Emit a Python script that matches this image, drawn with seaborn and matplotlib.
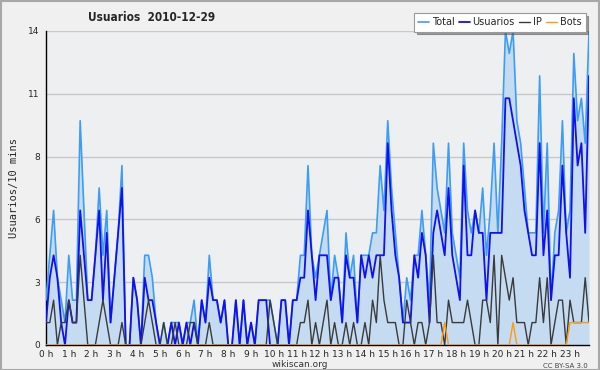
import matplotlib
matplotlib.use('Agg')
import matplotlib.pyplot as plt
import seaborn as sns
import pandas as pd
from matplotlib.patches import Rectangle
from matplotlib.ticker import FixedLocator, MultipleLocator

# editions per 10-minute slot, 2010-12-29 (144 slots)
total = [2, 4, 6, 3, 2, 1, 4, 2, 2, 10, 6, 2,
         2, 4, 7, 4, 6, 1, 3, 5, 8, 0, 0, 3,
         2, 0, 4, 4, 3, 1, 0, 1, 0, 1, 1, 1,
         0, 1, 1, 2, 0, 2, 1, 4, 2, 2, 1, 2,
         0, 0, 2, 0, 2, 0, 1, 0, 2, 2, 2, 2,
         1, 0, 2, 2, 0, 2, 2, 4, 4, 8, 4, 3,
         4, 5, 6, 2, 4, 3, 1, 5, 3, 4, 1, 4,
         4, 4, 5, 5, 8, 6, 10, 7, 5, 3, 1, 3,
         2, 4, 4, 6, 4, 2, 9, 7, 6, 5, 9, 5,
         4, 3, 9, 6, 5, 6, 5, 7, 4, 6, 9, 5,
         9, 14, 13, 14, 10, 9, 7, 5, 5, 5, 12, 5,
         9, 2, 5, 6, 10, 5, 6, 13, 10, 11, 9, 14]

usuarios = [1, 3, 4, 3, 1, 0, 2, 1, 1, 6, 4, 2,
            2, 4, 6, 2, 5, 1, 3, 5, 7, 0, 0, 3,
            2, 0, 3, 2, 2, 1, 0, 0, 0, 1, 0, 1,
            0, 1, 0, 1, 0, 2, 1, 3, 2, 2, 1, 2,
            0, 0, 2, 0, 2, 0, 1, 0, 2, 2, 2, 0,
            0, 0, 2, 2, 0, 2, 2, 3, 3, 6, 4, 2,
            4, 4, 4, 2, 3, 3, 1, 4, 3, 3, 1, 4,
            3, 4, 3, 4, 4, 4, 9, 6, 4, 3, 1, 1,
            1, 4, 3, 5, 4, 1, 5, 6, 5, 4, 7, 4,
            3, 2, 8, 4, 4, 6, 5, 5, 2, 5, 5, 5,
            5, 11, 11, 10, 9, 8, 6, 5, 4, 4, 9, 4,
            6, 2, 4, 4, 8, 5, 3, 11, 8, 9, 5, 12]

ip = [1, 1, 2, 0, 1, 1, 2, 1, 1, 4, 2, 0,
      0, 0, 1, 2, 1, 0, 0, 0, 1, 0, 0, 0,
      0, 0, 1, 2, 1, 0, 0, 1, 0, 0, 1, 0,
      0, 0, 1, 1, 0, 0, 0, 1, 0, 0, 0, 0,
      0, 0, 0, 0, 0, 0, 0, 0, 0, 0, 0, 2,
      1, 0, 0, 0, 0, 0, 0, 1, 1, 2, 0, 1,
      0, 1, 2, 0, 1, 0, 0, 1, 0, 1, 0, 0,
      1, 0, 2, 1, 4, 2, 1, 1, 1, 0, 0, 2,
      1, 0, 1, 1, 0, 1, 4, 1, 1, 0, 2, 1,
      1, 1, 1, 2, 1, 0, 0, 2, 2, 1, 4, 0,
      4, 3, 2, 3, 1, 1, 1, 0, 1, 1, 3, 1,
      3, 0, 1, 2, 2, 0, 2, 1, 1, 1, 3, 1]

bots = [0] * 105 + [1] + [0] * 17 + [1] + [0] * 14 + [1, 1, 1, 1, 1, 1]

hour_labels = [f'{h} h' for h in range(24)]
y_ticks = [0, 2.8, 5.6, 8.4, 11.2, 14]
y_tick_labels = ['0', '3', '6', '8', '11', '14']

series = ['Total', 'Usuarios', 'IP', 'Bots']
colors = {'Total': '#3d9df5', 'Usuarios': '#1010f0', 'IP': '#3a3a3a', 'Bots': '#ff9a10'}
widths = {'Total': 1.2, 'Usuarios': 1.3, 'IP': 1.0, 'Bots': 1.0}

df = pd.DataFrame({'slot': range(len(total)), 'Total': total,
                   'Usuarios': usuarios, 'IP': ip, 'Bots': bots})

sns.set_style('white')
plt.rcParams['font.family'] = ['DejaVu Sans']

fig = plt.figure(figsize=(6, 3.7), dpi=100, facecolor='#f0f0f0')
ax = fig.add_axes([46 / 600, 25 / 370, 543 / 600, 314 / 370])
ax.set_facecolor('#eeeff1')

ax.fill_between(df['slot'], df['Total'], color='#c4dbf1', zorder=1, linewidth=0)
for name in series:
    sns.lineplot(data=df, x='slot', y=name, ax=ax, color=colors[name],
                 linewidth=widths[name], label=name, zorder=3)

ax.set_xlim(0, len(total) - 1)
ax.set_ylim(0, 14)

ax.yaxis.set_major_locator(FixedLocator(y_ticks))
ax.set_yticklabels(y_tick_labels)
ax.yaxis.set_minor_locator(MultipleLocator(0.7))
ax.xaxis.set_major_locator(FixedLocator(range(0, 144, 6)))
ax.set_xticklabels(hour_labels)
ax.xaxis.set_minor_locator(MultipleLocator(1))

ax.tick_params(axis='both', which='major', direction='out', length=3.5, width=0.8,
               color='black', labelsize=6.5, pad=1)
ax.tick_params(axis='both', which='minor', direction='out', length=3, width=0.8,
               color='black')
ax.tick_params(axis='x', which='major', pad=0, labelsize=6.5)

ax.yaxis.grid(True, color='#c8c8c8', linewidth=1)
ax.xaxis.grid(False)
ax.set_axisbelow(True)
for side in ['top', 'right']:
    ax.spines[side].set_visible(False)
for side in ['left', 'bottom']:
    ax.spines[side].set_color('black')
    ax.spines[side].set_linewidth(1)

ax.set_xlabel('')
ax.set_ylabel('Usuarios/10 mins', family='DejaVu Sans Mono', fontsize=7.5, labelpad=7)

leg = ax.legend(loc='upper right', bbox_to_anchor=(0.976, 0.965),
                bbox_transform=fig.transFigure, ncol=4, fontsize=7,
                frameon=True, fancybox=False, shadow=True,
                handlelength=1.1, handletextpad=0.3, columnspacing=0.45,
                borderpad=0.45, borderaxespad=0)
leg.get_frame().set_edgecolor('#999999')
leg.get_frame().set_facecolor('white')
leg.get_frame().set_linewidth(0.8)

fig.text(0.252, 0.953, 'Usuarios  2010-12-29', fontsize=8.5, fontweight='bold',
         fontstretch='condensed', ha='center', va='center')
fig.text(0.5, 0.014, 'wikiscan.org', fontsize=6.5, ha='center', va='center', color='#333333')
fig.text(0.98, 0.012, 'CC BY-SA 3.0', fontsize=5, ha='right', va='center', color='#444444')

fig.patches.append(Rectangle((0.001, 0.001), 0.997, 0.996, transform=fig.transFigure,
                             fill=False, edgecolor='#a8a8a8', linewidth=1.5))

fig.savefig('out.png', dpi=100, facecolor=fig.get_facecolor())
